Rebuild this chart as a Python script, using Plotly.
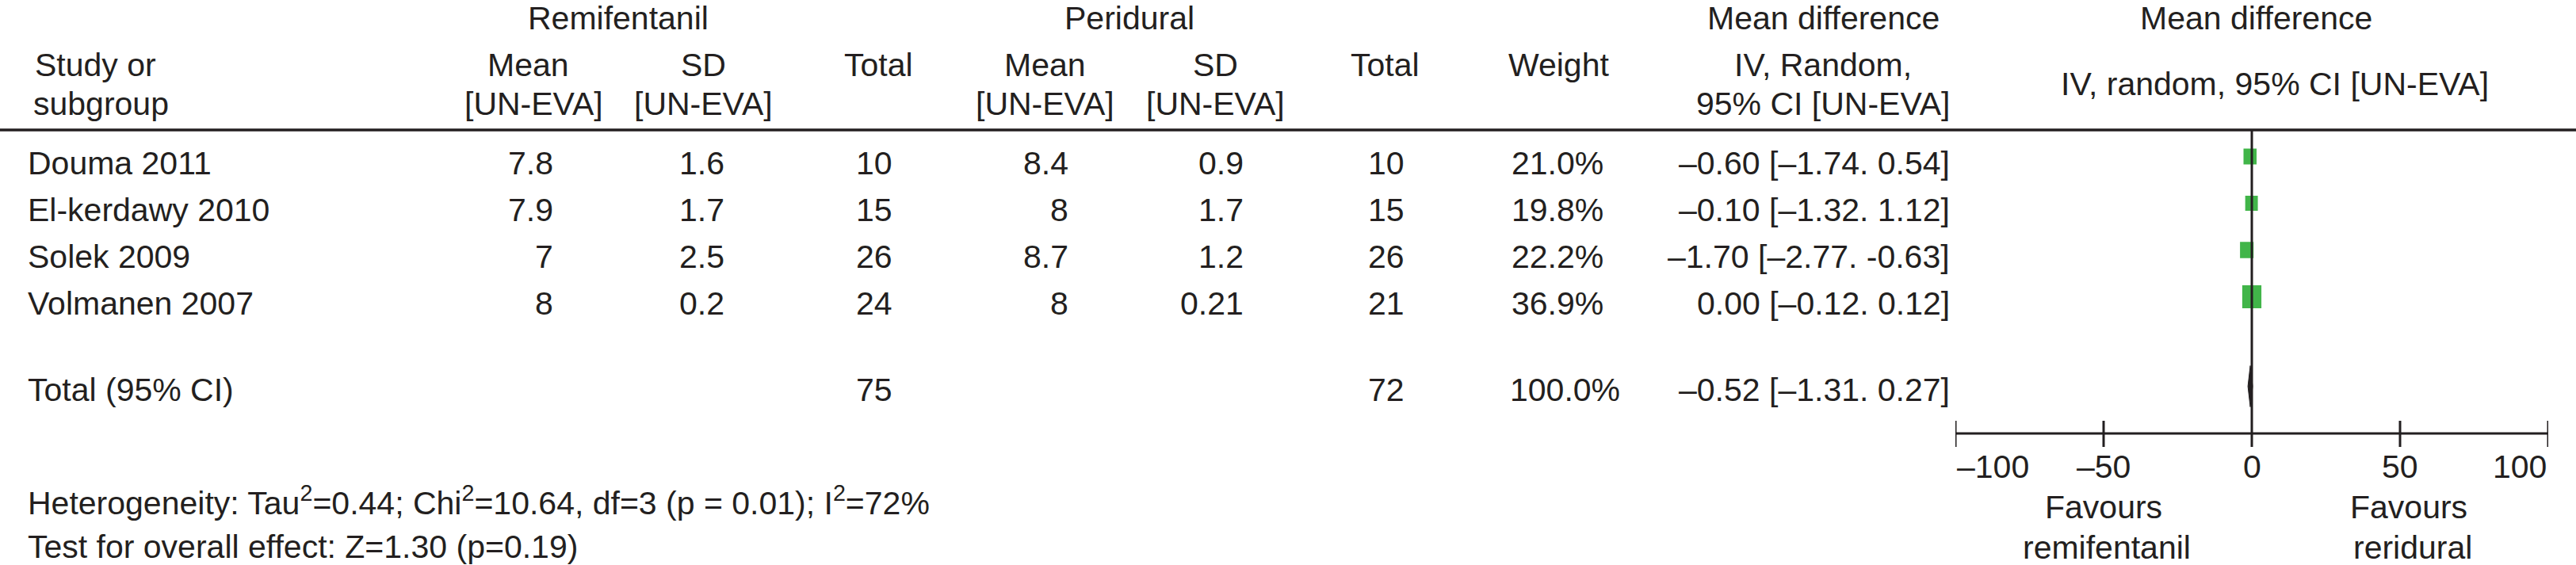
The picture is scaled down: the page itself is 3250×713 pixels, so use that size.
import plotly.graph_objects as go

# ---------------- data ----------------
studies = ["Douma 2011", "El-kerdawy 2010", "Solek 2009", "Volmanen 2007"]
remi_mean = ["7.8", "7.9", "7", "8"]
remi_sd = ["1.6", "1.7", "2.5", "0.2"]
remi_total = [10, 15, 26, 24]
peri_mean = ["8.4", "8", "8.7", "8"]
peri_sd = ["0.9", "1.7", "1.2", "0.21"]
peri_total = [10, 15, 26, 21]
weights = [21.0, 19.8, 22.2, 36.9]
md = [-0.60, -0.10, -1.70, 0.00]
ci_low = [-1.74, -1.32, -2.77, -0.12]
ci_high = [0.54, 1.12, -0.63, 0.12]
md_text = ["–0.60 [–1.74. 0.54]", "–0.10 [–1.32. 1.12]",
           "–1.70 [–2.77. -0.63]", "0.00 [–0.12. 0.12]"]

total_label = "Total (95% CI)"
total_remi = 75
total_peri = 72
total_weight = "100.0%"
total_md = -0.52
total_low = -1.31
total_high = 0.27
total_md_text = "–0.52 [–1.31. 0.27]"

axis_ticks = [-100, -50, 0, 50, 100]
axis_ticktext = ["–100", "–50", "0", "50", "100"]

heterogeneity = "Heterogeneity: Tau<sup>2</sup>=0.44; Chi<sup>2</sup>=10.64, df=3 (p = 0.01); I<sup>2</sup>=72%"
overall = "Test for overall effect: Z=1.30 (p=0.19)"

# ---------------- layout helpers ----------------
W, H = 3250, 713
FONT = "Liberation Sans, Arial, Helvetica, sans-serif"
FS = 41
INK = "#231f20"
GREEN = "#41b549"

AX_L, AX_R = 2467, 3215          # pixel extent of -100..100
ROW0, ROW_H = 197.5, 59.0        # pixel centre of first study row, row pitch
TXT_OFF = 8.5                    # text sits slightly lower than markers
TOTAL_ROW = len(studies) + 0.915
PX_PER_UNIT = (AX_R - AX_L) / 200.0


def px(x):
    return x / W


def py(y):
    return 1 - y / H


def row_px(r):
    return ROW0 + r * ROW_H


fig = go.Figure()

# CI lines (behind boxes)
for i in range(len(studies)):
    fig.add_trace(go.Scatter(x=[ci_low[i], ci_high[i]], y=[i, i], mode="lines",
                             line=dict(color=INK, width=3), hoverinfo="skip",
                             showlegend=False))

# weight boxes
bx, by = [], []
for i, w in enumerate(weights):
    h_px = 7.6 + 0.58 * w
    w_px = h_px / 1.2
    dx = w_px / 2 / PX_PER_UNIT
    dy = h_px / 2 / ROW_H
    m = md[i]
    bx += [m - dx, m + dx, m + dx, m - dx, m - dx, None]
    by += [i - dy, i - dy, i + dy, i + dy, i - dy, None]
fig.add_trace(go.Scatter(x=bx, y=by, mode="lines", fill="toself",
                         fillcolor=GREEN, line=dict(width=0, color=GREEN),
                         hoverinfo="skip", showlegend=False))

# summary diamond
dd = 26.0 / ROW_H
fig.add_trace(go.Scatter(x=[total_low, total_md, total_high, total_md, total_low],
                         y=[TOTAL_ROW, TOTAL_ROW - dd, TOTAL_ROW, TOTAL_ROW + dd, TOTAL_ROW],
                         mode="lines", fill="toself", fillcolor=INK,
                         line=dict(width=1, color=INK), hoverinfo="skip",
                         showlegend=False))

shapes = []
# header rule
shapes.append(dict(type="line", xref="paper", yref="paper", x0=0, x1=1,
                   y0=py(164), y1=py(164), line=dict(color=INK, width=3.5)))
# zero line
shapes.append(dict(type="line", xref="x", yref="paper", x0=0, x1=0,
                   y0=py(164), y1=py(564), line=dict(color=INK, width=3),
                   layer="above"))
# axis line
shapes.append(dict(type="line", xref="x", yref="paper", x0=axis_ticks[0],
                   x1=axis_ticks[-1], y0=py(547), y1=py(547),
                   line=dict(color=INK, width=3)))
for t in axis_ticks:
    if t == 0:
        continue
    shapes.append(dict(type="line", xref="x", yref="paper", x0=t, x1=t,
                       y0=py(531), y1=py(564), line=dict(color=INK, width=3)))

ann = []


def text(s, x, y, anchor="center", xref="paper", xshift=0):
    ann.append(dict(text=s, x=x if xref != "paper" else px(x), y=py(y),
                    xref=xref, yref="paper", xanchor=anchor, yanchor="middle",
                    showarrow=False, xshift=xshift,
                    font=dict(family=FONT, size=FS, color=INK)))


# headers
text("Remifentanil", 780, 23)
text("Peridural", 1425, 23)
text("Mean difference", 2300, 23)
text("Mean difference", 2846, 23)

text("Study or", 42, 82, "left")
text("subgroup", 40, 131, "left")
text("Mean", 666, 82)
text("[UN-EVA]", 673, 131)
text("SD", 887, 82)
text("[UN-EVA]", 887, 131)
text("Total", 1108, 82)
text("Mean", 1318, 82)
text("[UN-EVA]", 1318, 131)
text("SD", 1533, 82)
text("[UN-EVA]", 1533, 131)
text("Total", 1747, 82)
text("Weight", 1966, 82)
text("IV, Random,", 2300, 82)
text("95% CI [UN-EVA]", 2300, 131)
text("IV, random, 95% CI [UN-EVA]", 2870, 106)

# study rows
for i, s in enumerate(studies):
    y = row_px(i) + TXT_OFF
    text(s, 33, y, "left")
    text(remi_mean[i], 700, y, "right")
    text(remi_sd[i], 916, y, "right")
    text(str(remi_total[i]), 1103, y)
    text(peri_mean[i], 1350, y, "right")
    text(peri_sd[i], 1571, y, "right")
    text(str(peri_total[i]), 1749, y)
    text(f"{weights[i]:.1f}%", 1905, y, "left")
    text(md_text[i], 2462, y, "right")

# total row
ty = row_px(TOTAL_ROW) + 4.5
text(total_label, 33, ty, "left")
text(str(total_remi), 1103, ty)
text(str(total_peri), 1749, ty)
text(total_weight, 1903, ty, "left")
text(total_md_text, 2462, ty, "right")

# footnotes
text(heterogeneity, 33, 632, "left")
text(overall, 33, 690, "left")

# axis tick labels
for k, (t, lab) in enumerate(zip(axis_ticks, axis_ticktext)):
    anchor = "left" if k == 0 else ("right" if k == len(axis_ticks) - 1 else "center")
    text(lab, t, 589, anchor, xref="x")

text("Favours", -50, 640, xref="x")
text("remifentanil", -50, 691, xref="x", xshift=4)
text("Favours", 50, 640, xref="x", xshift=11)
text("reridural", 50, 691, xref="x", xshift=16)

fig.update_layout(
    width=W, height=H,
    margin=dict(l=0, r=0, t=0, b=0),
    paper_bgcolor="white", plot_bgcolor="white",
    showlegend=False,
    xaxis=dict(domain=[px(AX_L), px(AX_R)], range=[axis_ticks[0], axis_ticks[-1]],
               visible=False, fixedrange=True),
    yaxis=dict(domain=[0, 1], range=[(H - ROW0) / ROW_H, -ROW0 / ROW_H],
               visible=False, fixedrange=True),
    shapes=shapes,
    annotations=ann,
)

fig.write_html(
    "out.html",
    config={"displayModeBar": False},
    post_script="document.body.style.margin='0';document.body.style.overflow='hidden';",
)
